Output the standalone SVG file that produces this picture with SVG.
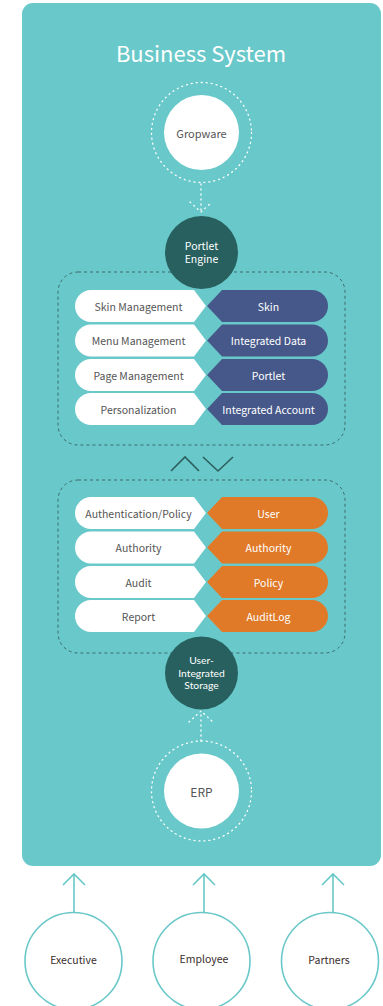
<svg xmlns="http://www.w3.org/2000/svg" width="383" height="1006" viewBox="0 0 383 1006">
<defs>
<style>
text{font-family:"Noto Sans CJK KR","Noto Sans",sans-serif;text-anchor:middle;dominant-baseline:central}
.panel{fill:#69C8C9}
.dotc{fill:none;stroke:#fff;stroke-width:1.3;stroke-dasharray:1 4;stroke-linecap:round}
.dotl{fill:none;stroke:#fff;stroke-width:1.3;stroke-dasharray:1 4;stroke-linecap:round}
.dash{fill:none;stroke:#3E6B6B;stroke-width:1;stroke-dasharray:3 3}
.dark{fill:#27605E}
.white{fill:#fff}
.navy{fill:#46588A}
.orange{fill:#E07A28}
.lt{font-size:10.5px;fill:#555}
.rt{font-size:10.5px;fill:#fff}
.ct{font-size:10.5px;fill:#fff}
.st{font-family:Lato,"Liberation Sans",sans-serif;font-size:10.3px;fill:#fff}
.user{fill:#fff;stroke:#6AC8C9;stroke-width:1.6}
.ut{font-size:10.5px;fill:#3A2D2D}
.arr{fill:none;stroke:#6AC8C9;stroke-width:1.6}
</style>
</defs>
<rect class="panel" x="22" y="3" width="359" height="863" rx="11"/>
<text x="201" y="52" style="font-size:22px;fill:#fff">Business System</text>

<g id="connectors">
<path class="dotl" d="M201 184 V212 M190 202 L201 212 L212 202"/>
<path class="dotl" d="M201 741 V711 M189 722 L201 711 L213 722"/>
<path class="arr" d="M74 912 V874 M63 885 L74 874 L85 885"/>
<path class="arr" d="M204 912 V874 M193 885 L204 874 L215 885"/>
<path class="arr" d="M333 912 V874 M322 885 L333 874 L344 885"/>
<path d="M171 471 L185 457 L199 471 M203 457 L218 471 L233 457" fill="none" stroke="#2D5F5F" stroke-width="1.6"/>
</g>

<g id="gropware">
<circle class="dotc" cx="201.5" cy="132.5" r="50"/>
<circle class="white" cx="201.5" cy="132.5" r="37.5"/>
<text x="201.5" y="133" style="font-size:11px;fill:#555">Gropware</text>
</g>

<g id="upper-group">
<rect class="dash" x="58" y="272" width="287" height="173" rx="20"/>
</g>

<g id="portlet-engine">
<circle class="dark" cx="201.5" cy="252.5" r="36.5"/>
<text class="ct" x="201.5" y="245">Portlet</text>
<text class="ct" x="201.5" y="258">Engine</text>
</g>

<g id="row-skin">
<path class="white" d="M91 290 H194 L206 306 L194 322 H91 A16 16 0 0 1 91 290 Z"/>
<path class="navy" d="M222 290 H312 A16 16 0 0 1 312 322 H222 L207 306 Z"/>
<text class="lt" x="138.5" y="306">Skin Management</text>
<text class="rt" x="268.5" y="306">Skin</text>
</g>
<g id="row-menu">
<path class="white" d="M91 324.5 H194 L206 340.5 L194 356.5 H91 A16 16 0 0 1 91 324.5 Z"/>
<path class="navy" d="M222 324.5 H312 A16 16 0 0 1 312 356.5 H222 L207 340.5 Z"/>
<text class="lt" x="138.5" y="340.5">Menu Management</text>
<text class="rt" x="268.5" y="340.5">Integrated Data</text>
</g>
<g id="row-page">
<path class="white" d="M91 359 H194 L206 375 L194 391 H91 A16 16 0 0 1 91 359 Z"/>
<path class="navy" d="M222 359 H312 A16 16 0 0 1 312 391 H222 L207 375 Z"/>
<text class="lt" x="138.5" y="375">Page Management</text>
<text class="rt" x="268.5" y="375">Portlet</text>
</g>
<g id="row-personal">
<path class="white" d="M91 393 H194 L206 409 L194 425 H91 A16 16 0 0 1 91 393 Z"/>
<path class="navy" d="M222 393 H312 A16 16 0 0 1 312 425 H222 L207 409 Z"/>
<text class="lt" x="138.5" y="409">Personalization</text>
<text class="rt" x="268.5" y="409">Integrated Account</text>
</g>

<g id="lower-group">
<rect class="dash" x="58" y="480" width="287" height="173" rx="20"/>
</g>

<g id="row-auth">
<path class="white" d="M91 497 H194 L206 513 L194 529 H91 A16 16 0 0 1 91 497 Z"/>
<path class="orange" d="M222 497 H312 A16 16 0 0 1 312 529 H222 L207 513 Z"/>
<text class="lt" x="138.5" y="513">Authentication/Policy</text>
<text class="rt" x="268.5" y="513">User</text>
</g>
<g id="row-authority">
<path class="white" d="M91 531.5 H194 L206 547.5 L194 563.5 H91 A16 16 0 0 1 91 531.5 Z"/>
<path class="orange" d="M222 531.5 H312 A16 16 0 0 1 312 563.5 H222 L207 547.5 Z"/>
<text class="lt" x="138.5" y="547.5">Authority</text>
<text class="rt" x="268.5" y="547.5">Authority</text>
</g>
<g id="row-audit">
<path class="white" d="M91 566 H194 L206 582 L194 598 H91 A16 16 0 0 1 91 566 Z"/>
<path class="orange" d="M222 566 H312 A16 16 0 0 1 312 598 H222 L207 582 Z"/>
<text class="lt" x="138.5" y="582">Audit</text>
<text class="rt" x="268.5" y="582">Policy</text>
</g>
<g id="row-report">
<path class="white" d="M91 600 H194 L206 616 L194 632 H91 A16 16 0 0 1 91 600 Z"/>
<path class="orange" d="M222 600 H312 A16 16 0 0 1 312 632 H222 L207 616 Z"/>
<text class="lt" x="138.5" y="616">Report</text>
<text class="rt" x="268.5" y="616">AuditLog</text>
</g>

<g id="user-storage">
<circle class="dark" cx="201.5" cy="673" r="36.5"/>
<text class="st" x="201.5" y="660">User-</text>
<text class="st" x="201.5" y="672.5">Integrated</text>
<text class="st" x="201.5" y="685">Storage</text>
</g>

<g id="erp">
<circle class="dotc" cx="201.5" cy="791" r="50"/>
<circle class="white" cx="201.5" cy="791" r="37.5"/>
<text x="201.5" y="791" style="font-size:12px;fill:#555">ERP</text>
</g>

<g id="executive">
<circle class="user" cx="73.5" cy="961" r="48.5"/>
<text class="ut" x="73.5" y="959.5">Executive</text>
</g>
<g id="employee">
<circle class="user" cx="201.5" cy="961" r="48.5"/>
<text class="ut" x="204" y="958.5">Employee</text>
</g>
<g id="partners">
<circle class="user" cx="330" cy="961" r="48.5"/>
<text class="ut" x="329" y="959.5">Partners</text>
</g>
</svg>
